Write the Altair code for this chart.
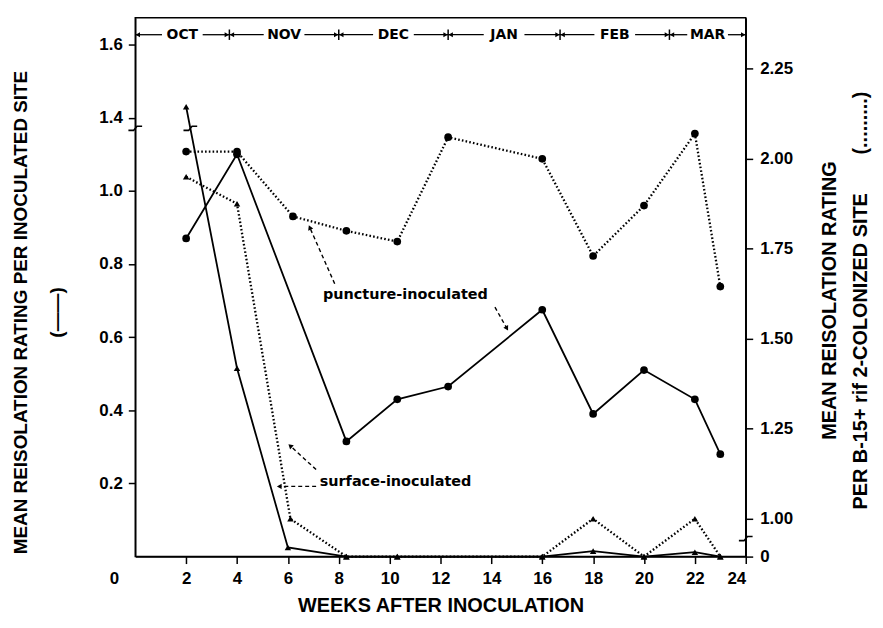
import math
import altair as alt
import pandas as pd

FONT = "Liberation Sans"
ANN_FONT = "DejaVu Sans"

# ---------------- data ----------------
# puncture-inoculated, dotted (right axis: rating per colonized site)
pd_weeks = [2, 4, 6.2, 8.3, 10.3, 12.3, 16, 18, 20, 22, 23]
pd_vals = [2.02, 2.02, 1.84, 1.80, 1.77, 2.06, 2.00, 1.73, 1.87, 2.07, 1.645]
# puncture-inoculated, solid (left axis: rating per inoculated site)
ps_weeks = [2, 4, 8.3, 10.3, 12.3, 16, 18, 20, 22, 23]
ps_vals = [0.87, 1.10, 0.315, 0.43, 0.465, 0.675, 0.39, 0.51, 0.43, 0.28]
# surface-inoculated, solid (left axis)
ss_weeks = [2, 4, 6, 8.3, 10.3, 16, 18, 20, 22, 23]
ss_vals = [1.43, 0.515, 0.025, 0, 0, 0, 0.015, 0, 0.012, 0]
# surface-inoculated, dotted (right axis)
sd_weeks = [2, 4, 6.1, 8.3, 10.3, 16, 18, 20, 22, 23]
sd_vals = [1.95, 1.875, 1.0, 0, 0, 0, 1.0, 0, 1.0, 0]

month_names = ["OCT", "NOV", "DEC", "JAN", "FEB", "MAR"]
month_bounds = [0, 3.7, 8.0, 12.3, 16.7, 21.0, 24]

x_ticks = [2, 4, 6, 8, 10, 12, 14, 16, 18, 20, 22, 24]
left_tick_vals = [0.2, 0.4, 0.6, 0.8, 1.0, 1.4, 1.6]
right_tick_vals = [0, 1.0, 1.25, 1.5, 1.75, 2.0, 2.25]

# ---------------- geometry / broken-axis mapping ----------------
W, H = 614, 542
XMAX = 24
LEFT_TOP = 1.4735
LEFT_SKIP = 0.2          # left axis omits 1.0..1.2 region above the break
LEFT_BREAK = 1.171
RIGHT_ZERO = 0.895       # right axis: 0 drawn just below 1.00 (break)
RIGHT_TOP = 2.392
RIGHT_BREAK = 0.945
BAND = 1.427             # month band height (left-axis units)


def left_pos(v):
    return v - LEFT_SKIP if v > 1.2 else v


def right_pos(v):
    return v if v >= 0.9 else RIGHT_ZERO + v


px_x = W / XMAX
px_y = H / LEFT_TOP

X = alt.X(
    "week:Q",
    scale=alt.Scale(domain=[0, XMAX], nice=False, zero=False),
    axis=alt.Axis(
        values=x_ticks, format="d", tickSize=7, labelPadding=7,
        title="WEEKS AFTER INOCULATION", titleFontSize=20,
        titleY=39, titleBaseline="top",
    ),
)

YL = alt.Y(
    "pos:Q",
    scale=alt.Scale(domain=[0, LEFT_TOP], nice=False, zero=False),
    axis=alt.Axis(
        orient="left",
        values=[left_pos(v) for v in left_tick_vals],
        labelExpr="datum.value > 1.1 ? format(datum.value + 0.2, '.1f') : format(datum.value, '.1f')",
        tickSize=7, labelPadding=6,
        title=["MEAN REISOLATION RATING PER INOCULATED SITE", "(\u2014\u2014)"],
        titleFontSize=19, titleAngle=270, titleX=-124, titleY=296,
        titleAlign="center", titleBaseline="top", titleLineHeight=36,
    ),
)

YR = alt.Y(
    "pos:Q",
    scale=alt.Scale(domain=[RIGHT_ZERO, RIGHT_TOP], nice=False, zero=False),
    axis=alt.Axis(
        orient="right",
        values=[right_pos(v) for v in right_tick_vals],
        labelExpr="datum.value < 0.95 ? '0' : format(datum.value, '.2f')",
        tickSize=7, labelPadding=7,
        title=["MEAN REISOLATION RATING",
               "PER B-15+ rif 2-COLONIZED SITE" + "\u00a0" * 7 + "(.........)"],
        titleFontSize=20, titleAngle=270, titleX=74, titleY=284,
        titleAlign="center", titleBaseline="top", titleLineHeight=31,
    ),
)


def series(weeks, vals, mapper):
    return pd.DataFrame({"week": weeks, "pos": [mapper(v) for v in vals]})


df_pd = series(pd_weeks, pd_vals, right_pos)
df_ps = series(ps_weeks, ps_vals, left_pos)
df_ss = series(ss_weeks, ss_vals, left_pos)
df_sd = series(sd_weeks, sd_vals, right_pos)

solid = dict(color="black", strokeWidth=1.8)
dotted = dict(color="black", strokeWidth=2.3, strokeDash=[1.6, 2.2])
circle = dict(shape="circle", filled=True, size=60, color="black", opacity=1)
tri = dict(shape="triangle-up", filled=True, size=42, color="black", opacity=1)
break_shape = "M-1,0.3L-0.25,0.3L0.25,-0.3L1,-0.3"

# ---------------- left layer ----------------
left_layers = [
    alt.Chart(df_ps).mark_line(**solid).encode(x=X, y=YL),
    alt.Chart(df_ps).mark_point(**circle).encode(x=X, y=YL),
    alt.Chart(df_ss).mark_line(**solid).encode(x=X, y=YL),
    alt.Chart(df_ss).mark_point(**tri).encode(x=X, y=YL),
]

# month band
hw = 0.8
seg_rows, head_rows, lab_rows = [], [], []
for name, s, e in zip(month_names, month_bounds[:-1], month_bounds[1:]):
    c = (s + e) / 2
    seg_rows.append({"week": s, "week2": c - hw, "pos": BAND, "pos2": BAND})
    seg_rows.append({"week": c + hw, "week2": e, "pos": BAND, "pos2": BAND})
    head_rows.append({"week": s + 0.1, "pos": BAND, "shape": "triangle-left"})
    head_rows.append({"week": e - 0.1, "pos": BAND, "shape": "triangle-right"})
    lab_rows.append({"week": c, "pos": BAND, "label": name})
sep_df = pd.DataFrame({"week": month_bounds[1:-1], "pos": [BAND] * (len(month_bounds) - 2)})

left_layers += [
    alt.Chart(pd.DataFrame(seg_rows)).mark_rule(color="black", strokeWidth=1.3).encode(
        x=X, x2="week2:Q", y=YL, y2="pos2:Q"),
    alt.Chart(pd.DataFrame(head_rows)).mark_point(filled=True, size=26, color="black", opacity=1).encode(
        x=X, y=YL, shape=alt.Shape("shape:N", scale=None)),
    alt.Chart(sep_df).mark_point(shape="M0,-1L0,1", size=110, filled=False, color="black",
                                 strokeWidth=1.5, opacity=1).encode(x=X, y=YL),
    alt.Chart(pd.DataFrame(lab_rows)).mark_text(font=ANN_FONT, fontSize=14, fontWeight="bold",
                                                color="black", baseline="middle").encode(
        x=X, y=YL, text="label:N"),
]

# annotations (left-aligned at their starting point)
ann_labels = pd.DataFrame({
    "week": [7.38, 7.25],
    "pos": [0.714, 0.205],
    "label": ["puncture-inoculated", "surface-inoculated"],
})
arrows = [
    (7.84, 0.746, 6.86, 0.900),
    (14.14, 0.682, 14.61, 0.624),
    (7.11, 0.238, 6.09, 0.303),
    (7.11, 0.192, 5.66, 0.192),
]
arr_rows, tip_rows = [], []
for tx, ty, hx, hy in arrows:
    arr_rows.append({"week": tx, "pos": ty, "week2": hx, "pos2": hy})
    dx = (hx - tx) * px_x
    dy = -(hy - ty) * px_y
    ang = math.degrees(math.atan2(dx, -dy)) % 360
    tip_rows.append({"week": hx, "pos": hy, "ang": ang})

left_layers += [
    alt.Chart(ann_labels).mark_text(font=ANN_FONT, fontSize=14.5, fontWeight="bold", color="black",
                                    align="left", baseline="middle").encode(
        x=X, y=YL, text="label:N"),
    alt.Chart(pd.DataFrame(arr_rows)).mark_rule(color="black", strokeWidth=1.4, strokeDash=[4, 3]).encode(
        x=X, x2="week2:Q", y=YL, y2="pos2:Q"),
    alt.Chart(pd.DataFrame(tip_rows)).mark_point(shape="triangle-up", filled=True, size=30,
                                                 color="black", opacity=1).encode(
        x=X, y=YL, angle=alt.Angle("ang:Q", scale=None)),
    alt.Chart(pd.DataFrame({"week": [0, 2.165], "pos": [LEFT_BREAK, LEFT_BREAK]})).mark_point(
        shape=break_shape, size=190, filled=False, color="black", strokeWidth=1.6, opacity=1).encode(x=X, y=YL),
    alt.Chart(pd.DataFrame({"week": [0], "pos": [0], "label": ["0"]})).mark_text(
        font=FONT, fontSize=17, fontWeight="bold", color="black", dx=-21, dy=23).encode(
        x=X, y=YL, text="label:N"),
]

# ---------------- right layer ----------------
right_layers = [
    alt.Chart(df_pd).mark_line(**dotted).encode(x=X, y=YR),
    alt.Chart(df_pd).mark_point(**circle).encode(x=X, y=YR),
    alt.Chart(df_sd).mark_line(**dotted).encode(x=X, y=YR),
    alt.Chart(df_sd).mark_point(**tri).encode(x=X, y=YR),
    alt.Chart(pd.DataFrame({"week": [XMAX], "pos": [RIGHT_BREAK]})).mark_point(
        shape=break_shape, size=190, filled=False, color="black", strokeWidth=1.6, opacity=1).encode(x=X, y=YR),
]

chart = alt.layer(
    alt.layer(*left_layers),
    alt.layer(*right_layers),
).resolve_scale(y="independent").properties(
    width=W, height=H,
    padding={"left": 128, "top": 8, "right": 130, "bottom": 60},
    autosize=alt.AutoSizeParams(type="none"),
).configure_view(
    stroke="black", strokeWidth=1.5,
).configure_axis(
    domainColor="black", domainWidth=1.5, tickColor="black", tickWidth=1.5,
    labelColor="black", titleColor="black", grid=False,
    labelFont=FONT, titleFont=FONT, labelFontWeight="bold", titleFontWeight="bold",
    labelFontSize=17,
)

chart.save("out.html", embed_options={"renderer": "svg", "actions": False})
